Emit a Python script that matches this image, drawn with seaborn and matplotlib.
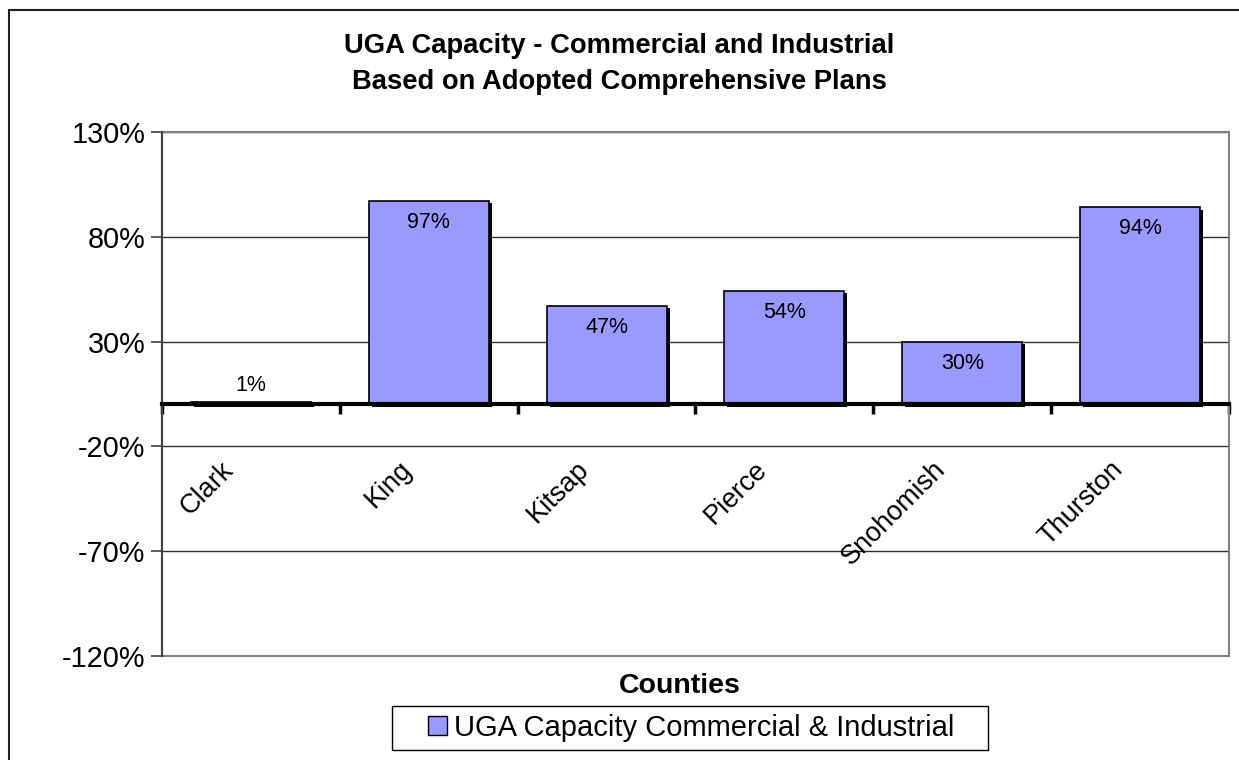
import matplotlib
matplotlib.use("Agg")
import matplotlib.pyplot as plt
import matplotlib.patheffects as pe
from matplotlib.patches import Rectangle, Patch
from matplotlib.transforms import offset_copy
import seaborn as sns

counties = ["Clark", "King", "Kitsap", "Pierce", "Snohomish", "Thurston"]
capacity_pct = [1, 97, 47, 54, 30, 94]
y_ticks = [-120, -70, -20, 30, 80, 130]
series_name = "UGA Capacity Commercial & Industrial"
title_lines = ["UGA Capacity - Commercial and Industrial",
               "Based on Adopted Comprehensive Plans"]
x_title = "Counties"

sns.set_theme(style="white")
plt.rcParams["font.family"] = ["Liberation Sans", "DejaVu Sans"]
plt.rcParams["text.color"] = "black"
plt.rcParams["axes.labelcolor"] = "black"
plt.rcParams["xtick.color"] = "black"
plt.rcParams["ytick.color"] = "black"

W, H = 1239, 760
fig = plt.figure(figsize=(W / 100, H / 100), dpi=100)
fig.patch.set_facecolor("white")

# plot area in pixel units
L, R, T, B = 162, 1229, 132, 656
ax = fig.add_axes([L / W, 1 - B / H, (R - L) / W, (B - T) / H])

bar_color = "#9999FF"
sns.barplot(x=counties, y=capacity_pct, color=bar_color, edgecolor="black",
            linewidth=1.2, width=0.675, saturation=1, ax=ax, zorder=3)
for p in ax.patches:
    p.set_path_effects([pe.SimplePatchShadow(offset=(2.2, -1.5), shadow_rgbFace="black", alpha=1.0),
                        pe.Normal()])

ax.set_ylim(y_ticks[0], y_ticks[-1])
ax.set_xlim(-0.5, len(counties) - 0.5)
ax.set_yticks(y_ticks)
ax.set_yticklabels([f"{v}%" for v in y_ticks], fontsize=20.8, color="black")
ax.tick_params(axis="y", which="major", direction="out", length=8, width=1.2,
               color="#404040", pad=4, left=True, labelcolor="black")

# horizontal gridlines
ax.set_axisbelow(True)
ax.yaxis.grid(True, color="#303030", linewidth=1.0)
ax.xaxis.grid(False)

# category axis sits at zero, ticks at category boundaries
for s in ["top", "right"]:
    ax.spines[s].set_visible(False)
ax.spines["left"].set_color("#404040")
ax.spines["left"].set_linewidth(1.5)
ax.spines["bottom"].set_position(("data", 0))
ax.spines["bottom"].set_color("black")
ax.spines["bottom"].set_linewidth(3)
ax.spines["bottom"].set_zorder(4)
ax.set_xticks([i - 0.5 for i in range(len(counties) + 1)])
ax.set_xticklabels([])
ax.tick_params(axis="x", which="major", direction="out", length=7, width=2.5,
               color="black", bottom=True)

# plot area frame
ax.add_patch(Rectangle((0, 0), 1, 1, transform=ax.transAxes, fill=False,
                       edgecolor="#808080", linewidth=1.5, zorder=2, clip_on=False))

# category names, rotated under the zero axis
lab_tr = offset_copy(ax.transData, fig=fig, x=-12, y=-52, units="dots")
for i, name in enumerate(counties):
    ax.text(i, 0, name, rotation=45, ha="right", va="top", fontsize=19.5,
            color="black", transform=lab_tr)

# value labels
for i, v in enumerate(capacity_pct):
    if v >= 5:
        tr = offset_copy(ax.transData, fig=fig, x=0, y=-11, units="dots")
        ax.text(i, v, f"{v}%", ha="center", va="top", fontsize=15.5, transform=tr, zorder=5)
    else:
        tr = offset_copy(ax.transData, fig=fig, x=0, y=6, units="dots")
        ax.text(i, v, f"{v}%", ha="center", va="bottom", fontsize=15.5, transform=tr, zorder=5)

ax.set_xlabel("")
ax.set_ylabel("")

# titles
fig.text(0.5, 1 - 46 / H, title_lines[0], ha="center", va="center",
         fontsize=19.7, fontweight="bold")
fig.text(0.5, 1 - 82 / H, title_lines[1], ha="center", va="center",
         fontsize=19.7, fontweight="bold")
fig.text(680 / W, 1 - 686 / H, x_title, ha="center", va="center",
         fontsize=20.5, fontweight="bold")

# legend
handle = Patch(facecolor=bar_color, edgecolor="black", linewidth=1.0)
fig.legend([handle], [series_name], loc="center", bbox_to_anchor=(691 / W, 1 - 728 / H),
           frameon=False, fontsize=21, handlelength=0.65, handleheight=0.6,
           handletextpad=0.25, borderpad=0.1)
fig.add_artist(Rectangle((392 / W, 1 - 750 / H), (988 - 392) / W, 44 / H,
                         transform=fig.transFigure, fill=False, edgecolor="black",
                         linewidth=1.0))

# outer chart border
fig.add_artist(Rectangle((9 / W, -0.05), 1.05, 1 - 10 / H + 0.05,
                         transform=fig.transFigure, fill=False, edgecolor="#202020",
                         linewidth=1.5))

fig.savefig("out.png", dpi=100)
